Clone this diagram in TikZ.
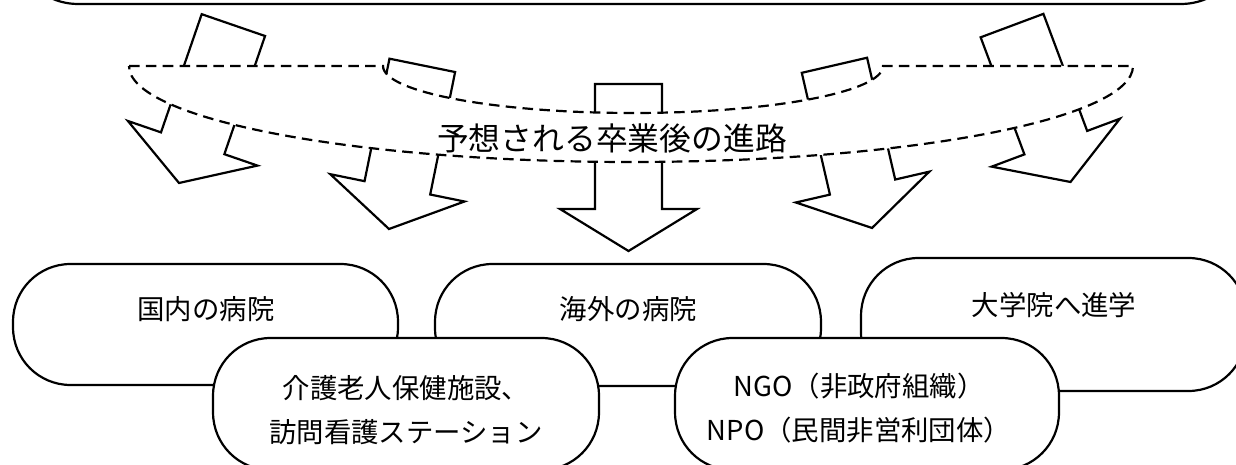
\documentclass[tikz,border=0pt]{standalone}
\usepackage{fontspec}
\setmainfont{Noto Sans CJK JP}
\tikzset{
    %Define style for the rounded boxes
    pill/.style={
           rectangle,
           rounded corners=1.15cm,
           draw=black, line width=1.25pt,
           fill=white,
           minimum width=7.7cm,
           minimum height=2.42cm},
    %Define style for texts in the boxes
    boxtext/.style={
           font=\fontsize{15.6}{25}\selectfont,
           align=center,
           inner sep=0pt},
    %Define style for the text on the band
    bandtext/.style={
           font=\fontsize{18.1}{22}\selectfont,
           inner sep=0pt},
    % Define style for the big arrows
    fatarrow/.style={
           draw=black, line width=1.25pt,
           fill=white},
    % Define style for the dashed band
    band/.style={
           draw=black, line width=1.25pt,
           fill=white,
           dash pattern=on 6pt off 3.6pt}
}
\begin{document}
\begin{tikzpicture}[x=0.02cm, y=-0.02cm]
    \useasboundingbox (0,0) rectangle (1236,465);
 %top box
    \node[pill, minimum width=24.66cm, minimum height=2.7cm, rounded corners=1.3cm] (school) at (629.5,-63.5) {};
 %arrows
    \foreach \tx/\ty/\ang in {179/183/-19, 389/229/-11.5, 628.5/251/0, 872/228/13, 1070.5/182/20.5}
      \draw[fatarrow, shift={(\tx,\ty)}, rotate=\ang]
          (0,0) -- (68.5,-42) -- (33.5,-42) -- (33.5,-167) -- (-33.5,-167)
          -- (-33.5,-42) -- (-68.5,-42) -- cycle;
 %band
    \draw[band] (129,66) -- (383,66) .. controls (383,92) and (495,113) .. (633,113)
        .. controls (771,113) and (883,92) .. (883,66) -- (1133,66)
        .. controls (1133,119) and (908,162) .. (631,162)
        .. controls (354,162) and (129,119) .. (129,66) -- cycle;
    \node[bandtext] (course) at (612,138) {予想される卒業後の進路};
 %back boxes
    \node[pill] (domestic) at (205.5,324.5) {};
    \node[boxtext] (domestictext) at (206,309) {国内の病院};
    \node[pill, minimum width=7.72cm, minimum height=2.44cm] (overseas) at (628,325) {};
    \node[boxtext] (overseastext) at (628.5,309.5) {海外の病院};
    \node[pill, minimum height=2.66cm] (grad) at (1053.5,324.5) {};
    \node[boxtext] (gradtext) at (1054,305) {大学院へ進学};
 %front boxes
    \node[pill, minimum width=7.72cm, minimum height=2.64cm] (care) at (406,404) {};
    \node[boxtext] (caretext) at (406,410) {介護老人保健施設、\\訪問看護ステーション};
    \node[pill, minimum width=7.68cm, minimum height=2.64cm] (ngo) at (867,404) {};
    \node[boxtext] (ngotext) at (859,408.5) {NGO（非政府組織）\\NPO（民間非営利団体）};
\end{tikzpicture}
\end{document}
